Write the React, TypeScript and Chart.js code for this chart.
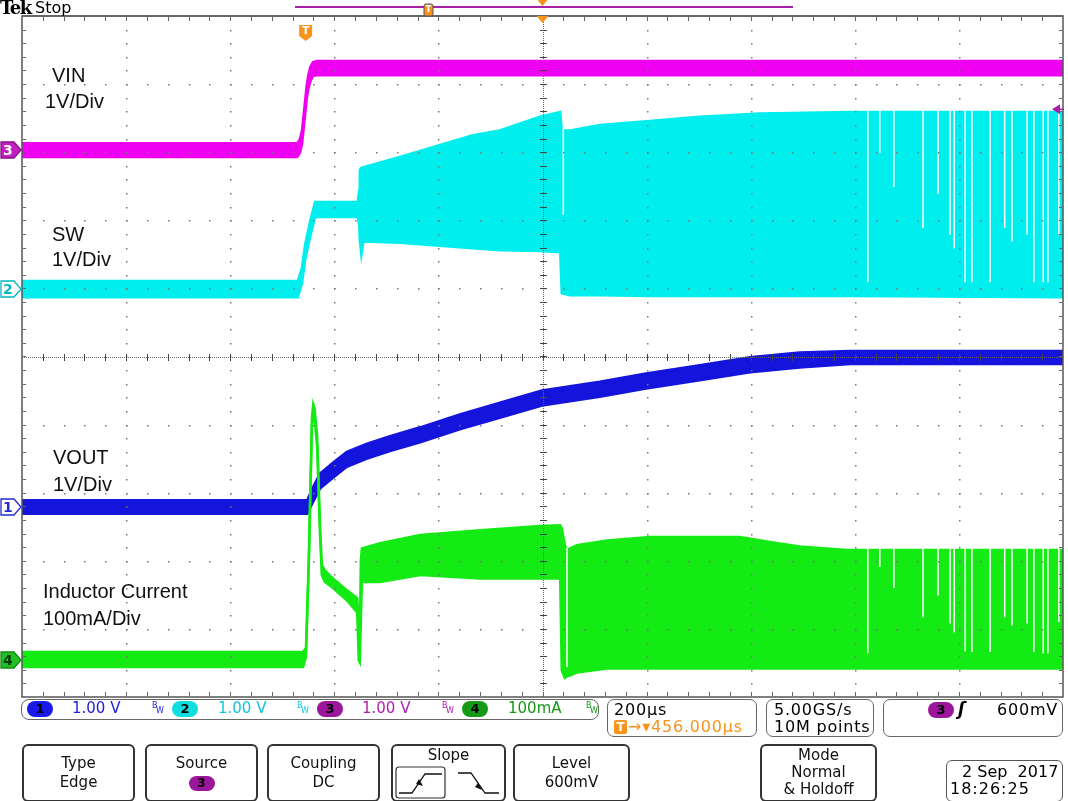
import React, { useEffect, useRef } from "react";
import { Chart, registerables } from "chart.js";

Chart.register(...registerables);

const W = 1068;
const H = 801;

// Plot (graticule) geometry
const PLOT_LEFT = 22;
const PLOT_TOP = 16;
const PLOT_RIGHT = 1063;
const PLOT_BOTTOM = 697;
const X_DIVS = 10;
const Y_DIVS = 10;

// Time axis: 200 µs/div, time relative to trigger (µs)
const timeMin = -544;
const timeMax = 1456;
const triggerDelay = 456;

// Channel scales (unit per division) and ground positions (divisions from bottom)
const vinPerDiv = 1; // V
const vinPos = 8.03;
const swPerDiv = 1; // V
const swPos = 5.99;
const voutPerDiv = 1; // V
const voutPos = 2.79;
const ilPerDiv = 100; // mA
const ilPos = 0.54;
const triggerLevel = 0.6; // V on ch3

// ---- VIN (ch3), volts: upper / lower edge of the trace band
const vinTime = [-544, -15, -10, -6, -3, 0, 3, 6, 10, 15, 22, 1456];
const vinHigh = [0.1, 0.1, 0.16, 0.29, 0.51, 0.73, 0.95, 1.1, 1.22, 1.29, 1.31, 1.31];
const vinLow = [-0.1, -0.1, -0.04, 0.09, 0.31, 0.53, 0.75, 0.9, 1.01, 1.09, 1.1, 1.1];

// ---- SW (ch2), volts
const swTime = [-544, -14, -6, 0, 10, 19, 101, 104, 105, 108, 112, 182, 322, 374, 451, 490, 493, 509, 566, 662, 758, 874, 1047, 1456];
const swHigh = [0.12, 0.12, 0.32, 0.66, 1.01, 1.28, 1.28, 1.45, 1.75, 1.78, 1.79, 1.94, 2.26, 2.33, 2.53, 2.6, 2.33, 2.33, 2.41, 2.47, 2.53, 2.58, 2.6, 2.6];
const swLow = [-0.12, -0.12, 0.09, 0.43, 0.78, 1.06, 1.06, 0.94, 0.72, 0.5, 0.7, 0.68, 0.6, 0.57, 0.56, 0.54, -0.06, -0.09, -0.09, -0.1, -0.1, -0.1, -0.1, -0.12];
// skipped pulses on SW: time and lowest level of the gap (V)
const swGapTime = [496, 1081, 1104, 1131, 1187, 1216, 1239, 1247, 1268, 1281, 1316, 1344, 1358, 1387, 1400, 1418, 1427, 1448];
const swGapBottom = [1.09, 0.1, 2.0, 1.5, 0.9, 1.4, 0.8, 0.6, 0.1, 0.1, 0.1, 0.9, 0.7, 0.8, 0.1, 0.1, 0.1, 0.8];

// ---- VOUT (ch1), volts
const voutTime = [-544, 4, 15, 28.5, 53.5, 80, 119, 163, 221, 297, 374, 455, 566, 655, 758, 855, 950, 1047, 1456];
const voutHigh = [0.1, 0.1, 0.29, 0.49, 0.65, 0.81, 0.93, 1.04, 1.17, 1.36, 1.53, 1.71, 1.84, 1.96, 2.08, 2.2, 2.27, 2.29, 2.29];
const voutLow = [-0.1, -0.1, 0.07, 0.27, 0.43, 0.59, 0.71, 0.82, 0.95, 1.14, 1.31, 1.49, 1.62, 1.74, 1.86, 1.98, 2.05, 2.1, 2.1];

// ---- Inductor current (ch4), mA
const ilTime = [-544, -4, 1.6, 7, 13, 15.5, 18, 23, 28.5, 32, 38, 53.5, 80, 100, 103, 105, 107, 109, 144, 221, 336, 451, 490, 493, 499, 503, 522, 580, 662, 835, 899, 950, 1041, 1456];
const ilHigh = [12, 12, 18, 150, 355, 376, 370, 330, 200, 140, 132, 120, 103, 91, 59, 29, 147, 164, 172, 184, 191, 197, 198, 194, 169, 162, 169, 176, 181, 181, 173, 167, 162, 162];
const ilLow = [-10, -10, 5, 140, 345, 366, 355, 315, 185, 125, 115, 106, 88, 70, 0, -3, 60, 115, 115, 125, 120, 120, 120, -15, -26, -24, -18, -12, -12, -12, -12, -12, -12, -12];
// skipped pulses on the inductor current: time and lowest level of the gap (mA)
const ilGapTime = [503, 1081, 1104, 1131, 1187, 1216, 1239, 1247, 1268, 1281, 1316, 1344, 1358, 1387, 1400, 1418, 1427, 1448];
const ilGapBottom = [-10, 10, 137, 106, 63, 95, 54, 41, 13, 12, 12, 63, 51, 54, 12, 10, 10, 56];

const COL_VIN = "#f000f0";
const COL_SW = "#00eeee";
const COL_VOUT = "#1414dc";
const COL_IL = "#14ea14";
const ORANGE = "#f7941d";
const PURPLE = "#a81ea8";

const divH = (PLOT_BOTTOM - PLOT_TOP) / Y_DIVS;
const xPx = (t: number) => PLOT_LEFT + ((t - timeMin) / (timeMax - timeMin)) * (PLOT_RIGHT - PLOT_LEFT);
const yPx = (div: number) => PLOT_BOTTOM - div * divH;

function band(label: string, times: number[], hi: number[], lo: number[], pos: number, perDiv: number, color: string) {
  return [
    {
      label: label + " max",
      data: times.map((t, i) => ({ x: t, y: pos + hi[i] / perDiv })),
      borderColor: color,
      backgroundColor: color,
      borderWidth: 2.5,
      pointRadius: 0,
      fill: false,
    },
    {
      label: label + " min",
      data: times.map((t, i) => ({ x: t, y: pos + lo[i] / perDiv })),
      borderColor: color,
      backgroundColor: color,
      borderWidth: 2.5,
      pointRadius: 0,
      fill: "-1",
    },
  ];
}

function valueAt(times: number[], vals: number[], t: number) {
  for (let i = 1; i < times.length; i++) {
    if (t <= times[i]) {
      const f = (t - times[i - 1]) / (times[i] - times[i - 1]);
      return vals[i - 1] + f * (vals[i] - vals[i - 1]);
    }
  }
  return vals[vals.length - 1];
}

const gapPlugin = {
  id: "pulseGaps",
  afterDatasetsDraw(chart: any) {
    const { ctx, scales } = chart;
    const xs = scales.x;
    const ys = scales.y;
    ctx.save();
    ctx.fillStyle = "#ffffff";
    const draw = (gt: number[], gb: number[], times: number[], hi: number[], pos: number, perDiv: number) => {
      gt.forEach((t, i) => {
        const x = xs.getPixelForValue(t);
        const yTop = ys.getPixelForValue(pos + valueAt(times, hi, t) / perDiv) - 2;
        const yBot = ys.getPixelForValue(pos + gb[i] / perDiv);
        ctx.fillRect(x - 0.75, yTop, 1.5, yBot - yTop);
      });
    };
    draw(swGapTime, swGapBottom, swTime, swHigh, swPos, swPerDiv);
    draw(ilGapTime, ilGapBottom, ilTime, ilHigh, ilPos, ilPerDiv);
    ctx.restore();
  },
};

const gridPlugin = {
  id: "scopeGrid",
  afterDatasetsDraw(chart: any) {
    const { ctx, chartArea: a } = chart;
    const dx = (a.right - a.left) / X_DIVS;
    const dy = (a.bottom - a.top) / Y_DIVS;
    ctx.save();
    ctx.fillStyle = "#777";
    for (let i = 1; i < X_DIVS; i++) {
      if (i === X_DIVS / 2) continue;
      const x = Math.round(a.left + i * dx);
      for (let k = 1; k < Y_DIVS * 5; k++) {
        const y = Math.round(a.top + (k * dy) / 5);
        ctx.fillRect(x, y, 1.5, 1.5);
      }
    }
    for (let j = 1; j < Y_DIVS; j++) {
      if (j === Y_DIVS / 2) continue;
      const y = Math.round(a.top + j * dy);
      for (let k = 1; k < X_DIVS * 5; k++) {
        const x = Math.round(a.left + (k * dx) / 5);
        ctx.fillRect(x, y, 1.5, 1.5);
      }
    }
    const cx = Math.round(a.left + (X_DIVS / 2) * dx);
    const cy = Math.round(a.top + (Y_DIVS / 2) * dy);
    ctx.fillStyle = "#666";
    for (let y = a.top; y < a.bottom; y += 2) ctx.fillRect(cx, Math.round(y), 1, 1);
    for (let x = a.left; x < a.right; x += 2) ctx.fillRect(Math.round(x), cy, 1, 1);
    ctx.fillStyle = "#444";
    for (let k = 1; k < Y_DIVS * 5; k++) {
      const y = Math.round(a.top + (k * dy) / 5);
      ctx.fillRect(cx - 3, y, 7, 1);
    }
    for (let k = 1; k < X_DIVS * 5; k++) {
      const x = Math.round(a.left + (k * dx) / 5);
      ctx.fillRect(x, cy - 3, 1, 7);
    }
    ctx.fillStyle = "#666";
    for (let k = 1; k < X_DIVS * 5; k++) {
      const x = Math.round(a.left + (k * dx) / 5);
      ctx.fillRect(x, a.top + 1, 1, 4);
      ctx.fillRect(x, a.bottom - 5, 1, 4);
    }
    for (let k = 1; k < Y_DIVS * 5; k++) {
      const y = Math.round(a.top + (k * dy) / 5);
      ctx.fillRect(a.left + 1, y, 3, 1);
      ctx.fillRect(a.right - 4, y, 3, 1);
    }
    ctx.strokeStyle = "#555";
    ctx.lineWidth = 1.5;
    ctx.strokeRect(a.left, a.top, a.right - a.left, a.bottom - a.top);
    ctx.fillStyle = "#666";
    ctx.fillRect(a.left, a.top - 1, a.right - a.left, 2);
    ctx.restore();
  },
};

const FONT = '"DejaVu Sans", Verdana, sans-serif';
const LABEL_FONT = '"Liberation Sans", Arial, sans-serif';

function Abs(props: { l: number; t: number; children?: any; style?: any }) {
  return (
    <div style={{ position: "absolute", left: props.l, top: props.t, whiteSpace: "nowrap", ...props.style }}>
      {props.children}
    </div>
  );
}

function Badge(props: { l: number; t: number; bg: string; fg: string; n: string; w?: number }) {
  return (
    <div
      style={{
        position: "absolute",
        left: props.l,
        top: props.t,
        width: props.w || 26,
        height: 16,
        borderRadius: 8,
        background: props.bg,
        color: props.fg,
        fontFamily: FONT,
        fontWeight: "bold",
        fontSize: 13,
        lineHeight: "16px",
        textAlign: "center",
      }}
    >
      {props.n}
    </div>
  );
}

function BW(props: { l: number; color: string }) {
  return (
    <>
      <Abs l={props.l} t={701} style={{ fontSize: 8, fontFamily: FONT, color: props.color }}>B</Abs>
      <Abs l={props.l + 4} t={706} style={{ fontSize: 8, fontFamily: FONT, color: props.color }}>W</Abs>
    </>
  );
}

function Button(props: { l: number; w: number; lines: any[] }) {
  return (
    <div
      style={{
        position: "absolute",
        left: props.l,
        top: 744,
        width: props.w,
        height: 58,
        border: "2px solid #333",
        borderRadius: 6,
        boxSizing: "border-box",
        fontFamily: FONT,
        fontSize: 15,
        lineHeight: "19px",
        textAlign: "center",
        paddingTop: 8,
        color: "#111",
      }}
    >
      {props.lines.map((ln, i) => (
        <div key={i}>{ln}</div>
      ))}
    </div>
  );
}

function ChanMarker(props: { y: number; n: string; fill: string; stroke: string; fg: string }) {
  const y = props.y;
  return (
    <>
      <svg style={{ position: "absolute", left: 0, top: y - 9, overflow: "visible" }} width={22} height={18}>
        <polygon points="1,1 14,1 21,9 14,17 1,17" fill={props.fill} stroke={props.stroke} strokeWidth={1.3} />
      </svg>
      <Abs l={3} t={y - 9} style={{ fontFamily: FONT, fontSize: 14, lineHeight: "18px", color: props.fg, fontWeight: "bold" }}>
        {props.n}
      </Abs>
    </>
  );
}

export default function App() {
  const ref = useRef<HTMLCanvasElement | null>(null);

  useEffect(() => {
    if (!ref.current) return;
    const datasets: any[] = [
      ...band("Inductor Current", ilTime, ilHigh, ilLow, ilPos, ilPerDiv, COL_IL),
      ...band("VOUT", voutTime, voutHigh, voutLow, voutPos, voutPerDiv, COL_VOUT),
      ...band("SW", swTime, swHigh, swLow, swPos, swPerDiv, COL_SW),
      ...band("VIN", vinTime, vinHigh, vinLow, vinPos, vinPerDiv, COL_VIN),
    ];
    const chart = new Chart(ref.current, {
      type: "line",
      data: { datasets },
      options: {
        responsive: false,
        devicePixelRatio: 1,
        animation: false,
        layout: {
          padding: { left: PLOT_LEFT, top: PLOT_TOP, right: W - PLOT_RIGHT, bottom: H - PLOT_BOTTOM },
        },
        elements: { line: { tension: 0 } },
        plugins: { legend: { display: false }, tooltip: { enabled: false }, title: { display: false } },
        scales: {
          x: { type: "linear", min: timeMin, max: timeMax, display: false },
          y: { type: "linear", min: 0, max: Y_DIVS, display: false },
        },
      },
      plugins: [gapPlugin, gridPlugin],
    } as any);
    return () => chart.destroy();
  }, []);

  const trigX = xPx(0);
  const centerX = xPx(triggerDelay);
  const trigLevelY = yPx(vinPos + triggerLevel / vinPerDiv);

  const labelStyle = { fontFamily: LABEL_FONT, fontSize: 20, lineHeight: "20px", color: "#111" };
  const stat = { fontFamily: FONT, fontSize: 15, lineHeight: "17px" };
  const boxText = { fontFamily: FONT, fontSize: 16, lineHeight: "17px", letterSpacing: 0.8 };

  return (
    <div style={{ position: "fixed", left: 0, top: 0, width: W, height: H, background: "#fff", overflow: "hidden" }}>
      <canvas ref={ref} width={W} height={H} style={{ position: "absolute", left: 0, top: 0, width: W, height: H }} />

      {/* header */}
      <Abs l={0} t={-3} style={{ fontFamily: '"DejaVu Serif", serif', fontWeight: "bold", fontSize: 18, letterSpacing: -1.5, color: "#000" }}>Tek</Abs>
      <Abs l={35} t={-2} style={{ fontFamily: FONT, fontSize: 16, color: "#000" }}>Stop</Abs>

      <svg style={{ position: "absolute", left: 0, top: 0 }} width={W} height={H}>
        <line x1={295} y1={7} x2={793} y2={7} stroke={PURPLE} strokeWidth={2} />
        <rect x={424} y={4} width={9} height={12} rx={2} fill={ORANGE} stroke="#555" strokeWidth={1} />
        <polygon points={`${centerX - 5},0 ${centerX + 5},0 ${centerX},6`} fill={ORANGE} />
        <polygon points={`${centerX - 6},16 ${centerX + 6},16 ${centerX},23`} fill={ORANGE} />
        <path d={`M${trigX - 6},25 h13 v11 l-6.5,5 l-6.5,-5 z`} fill={ORANGE} />
        <polygon points={`1052,${trigLevelY} 1060,${trigLevelY - 5} 1060,${trigLevelY + 5}`} fill={PURPLE} />
        <line x1={1058} y1={trigLevelY} x2={1064} y2={trigLevelY} stroke={PURPLE} strokeWidth={1.5} />
        <rect x={396} y={767} width={49} height={31} rx={3} fill="#fff" stroke="#333" strokeWidth={1.2} />
        <polyline points="399,793 412,793 425,774 442,774" fill="none" stroke="#111" strokeWidth={1.3} />
        <polygon points="419,779 423,786 416,784" fill="#111" />
        <polyline points="458,773 471,773 485,793 499,793" fill="none" stroke="#111" strokeWidth={1.3} />
        <polygon points="478,783 482,790 475,787" fill="#111" />
      </svg>
      <Abs l={trigX - 6} t={25} style={{ width: 13, textAlign: "center", fontFamily: FONT, fontWeight: "bold", fontSize: 11, lineHeight: "12px", color: "#fff" }}>T</Abs>
      <Abs l={424} t={4} style={{ width: 9, textAlign: "center", fontFamily: FONT, fontWeight: "bold", fontSize: 8, lineHeight: "12px", color: "#fff" }}>T</Abs>

      {/* channel ground markers */}
      <ChanMarker y={yPx(vinPos)} n="3" fill="#c020c0" stroke="#8a108a" fg="#fff" />
      <ChanMarker y={yPx(swPos)} n="2" fill="#fff" stroke="#00b8c0" fg="#00b8c0" />
      <ChanMarker y={yPx(voutPos)} n="1" fill="#fff" stroke="#2828d0" fg="#2828d0" />
      <ChanMarker y={yPx(ilPos)} n="4" fill="#22c022" stroke="#138a13" fg="#063806" />

      {/* trace labels */}
      <Abs l={52} t={65} style={labelStyle}>VIN</Abs>
      <Abs l={45} t={91} style={labelStyle}>1V/Div</Abs>
      <Abs l={52} t={224} style={labelStyle}>SW</Abs>
      <Abs l={52} t={249} style={labelStyle}>1V/Div</Abs>
      <Abs l={53} t={447} style={labelStyle}>VOUT</Abs>
      <Abs l={53} t={474} style={labelStyle}>1V/Div</Abs>
      <Abs l={43} t={581} style={labelStyle}>Inductor Current</Abs>
      <Abs l={43} t={608} style={labelStyle}>100mA/Div</Abs>

      {/* channel status bar */}
      <div style={{ position: "absolute", left: 21, top: 699, width: 578, height: 21, border: "1px solid #666", borderRadius: 8, boxSizing: "border-box" }} />
      <Badge l={27} t={701} bg="#1a1ae8" fg="#000" n="1" />
      <Abs l={72} t={700} style={{ ...stat, color: "#2020e0" }}>1.00 V</Abs>
      <BW l={152} color="#2020e0" />
      <Badge l={172} t={701} bg="#10dede" fg="#000" n="2" />
      <Abs l={218} t={700} style={{ ...stat, color: "#10c8d8" }}>1.00 V</Abs>
      <BW l={297} color="#10c8d8" />
      <Badge l={317} t={701} bg="#9a169a" fg="#000" n="3" />
      <Abs l={362} t={700} style={{ ...stat, color: "#b020b0" }}>1.00 V</Abs>
      <BW l={442} color="#b020b0" />
      <Badge l={462} t={701} bg="#169a16" fg="#000" n="4" />
      <Abs l={508} t={700} style={{ ...stat, color: "#169a16" }}>100mA</Abs>
      <BW l={586} color="#169a16" />

      {/* horizontal box */}
      <div style={{ position: "absolute", left: 607, top: 699, width: 150, height: 38, border: "1px solid #666", borderRadius: 7, boxSizing: "border-box" }} />
      <Abs l={614} t={701} style={{ ...boxText, color: "#000" }}>200µs</Abs>
      <div style={{ position: "absolute", left: 614, top: 720, width: 13, height: 14, background: ORANGE, borderRadius: 2, color: "#fff", fontFamily: FONT, fontWeight: "bold", fontSize: 12, lineHeight: "14px", textAlign: "center" }}>T</div>
      <Abs l={628} t={718} style={{ ...boxText, color: ORANGE }}>→▾456.000µs</Abs>

      {/* acquisition box */}
      <div style={{ position: "absolute", left: 766, top: 699, width: 108, height: 38, border: "1px solid #666", borderRadius: 7, boxSizing: "border-box" }} />
      <Abs l={774} t={701} style={{ ...boxText, color: "#000" }}>5.00GS/s</Abs>
      <Abs l={774} t={718} style={{ ...boxText, color: "#000" }}>10M points</Abs>

      {/* trigger box */}
      <div style={{ position: "absolute", left: 883, top: 699, width: 180, height: 38, border: "1px solid #666", borderRadius: 7, boxSizing: "border-box" }} />
      <Badge l={928} t={702} bg="#9a169a" fg="#000" n="3" />
      <Abs l={958} t={699} style={{ fontFamily: FONT, fontSize: 17, fontWeight: "bold", fontStyle: "italic", color: "#000" }}>ʃ</Abs>
      <Abs l={997} t={701} style={{ ...boxText, color: "#000" }}>600mV</Abs>

      {/* soft buttons */}
      <Button l={22} w={113} lines={["Type", "Edge"]} />
      <Button
        l={145}
        w={113}
        lines={[
          "Source",
          <span key="s" style={{ display: "inline-block", width: 26, height: 15, borderRadius: 8, background: "#9a169a", color: "#000", fontSize: 12, lineHeight: "15px", fontWeight: "bold" }}>3</span>,
        ]}
      />
      <Button l={267} w={113} lines={["Coupling", "DC"]} />
      <div style={{ position: "absolute", left: 391, top: 744, width: 115, height: 58, border: "2px solid #333", borderRadius: 6, boxSizing: "border-box" }} />
      <Abs l={391} t={746} style={{ width: 115, textAlign: "center", fontFamily: FONT, fontSize: 15, lineHeight: "18px", color: "#111" }}>Slope</Abs>
      <Button l={513} w={117} lines={["Level", "600mV"]} />
      <div
        style={{
          position: "absolute", left: 760, top: 744, width: 117, height: 58, border: "2px solid #333", borderRadius: 6, boxSizing: "border-box",
          fontFamily: FONT, fontSize: 15, lineHeight: "17px", textAlign: "center", paddingTop: 1, color: "#111",
        }}
      >
        <div>Mode</div>
        <div>Normal</div>
        <div>&amp; Holdoff</div>
      </div>

      {/* date box */}
      <div style={{ position: "absolute", left: 946, top: 760, width: 117, height: 42, border: "1px solid #555", borderRadius: 6, boxSizing: "border-box" }} />
      <Abs l={962} t={763} style={{ fontFamily: FONT, fontSize: 16, lineHeight: "17px", color: "#000" }}>2 Sep&nbsp; 2017</Abs>
      <Abs l={950} t={780} style={{ fontFamily: FONT, fontSize: 16, lineHeight: "17px", letterSpacing: 1, color: "#000" }}>18:26:25</Abs>
    </div>
  );
}
